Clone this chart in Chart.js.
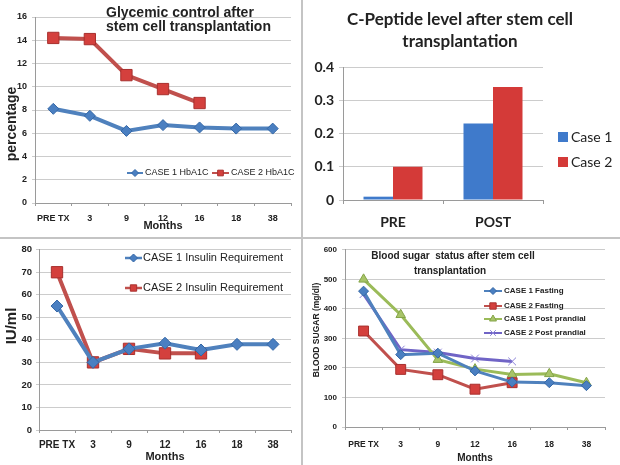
<!DOCTYPE html>
<html lang="en">
<head>
<meta charset="UTF-8" />
<title>Stem cell transplantation outcomes</title>
<script src="https://cdn.jsdelivr.net/npm/chart.js"></script>
<style>
  body { margin: 0; background: #fff; }
  #wrap { position: relative; width: 620px; height: 465px; overflow: hidden; background: #fff; }
  .panel { position: absolute; }
  .vline { position: absolute; left: 301px; top: 0; width: 2px; height: 465px; background: #c4c4c4; }
  .hline { position: absolute; left: 0; top: 237px; width: 620px; height: 2px; background: #c4c4c4; }
</style>
</head>
<body>
<div id="wrap">
  <canvas id="hba1c" class="panel" width="300" height="234" style="left:0;top:0"></canvas>
  <canvas id="peptide" class="panel" width="318" height="236" style="left:303px;top:0"></canvas>
  <canvas id="insulin" class="panel" width="300" height="225" style="left:0;top:240px"></canvas>
  <canvas id="sugar" class="panel" width="318" height="225" style="left:303px;top:240px"></canvas>
  <div class="vline"></div>
  <div class="hline"></div>
</div>
<script>
  const months = ['PRE TX', '3', '9', '12', '16', '18', '38'];

  const hba1cCase1 = [8.1, 7.5, 6.2, 6.7, 6.5, 6.4, 6.4];
  const hba1cCase2 = [14.2, 14.1, 11.0, 9.8, 8.6, null, null];

  const peptideGroups = ['PRE', 'POST'];
  const peptideCase1 = [0.01, 0.23];
  const peptideCase2 = [0.10, 0.34];

  const insulinCase1 = [55, 30, 36, 38.5, 35.5, 38, 38];
  const insulinCase2 = [70, 30, 36, 34, 34, null, null];

  const fastingCase1 = [460, 245, 250, 190, 152, 150, 140];
  const fastingCase2 = [325, 195, 177, 128, 150, null, null];
  const ppCase1 = [500, 380, 228, 196, 178, 180, 150];
  const ppCase2 = [450, 262, 252, 232, 222, null, null];

  const SANS = '"Liberation Sans", Arial, sans-serif';
  const LATO = 'Lato, "Liberation Sans", sans-serif';
  const BLUE = '#4f81bd', RED = '#c0504d', GREEN = '#9bbb59', PURPLE = '#7064c6';
  const GRID = '#cccccc', AXIS = '#9a9a9a', INK = '#222';

  // draws titles, rotated axis titles and legends at fixed spots
  function overlay(cfg) {
    return {
      id: 'overlay',
      afterDraw(chart) {
        const ctx = chart.ctx;
        (cfg.texts || []).forEach(t => {
          ctx.save();
          ctx.font = t.font;
          ctx.fillStyle = INK;
          ctx.textAlign = t.align || 'left';
          ctx.textBaseline = 'middle';
          ctx.translate(t.x, t.y);
          if (t.rotate) ctx.rotate(t.rotate);
          ctx.fillText(t.text, 0, 0);
          ctx.restore();
        });
        (cfg.legend || []).forEach(it => {
          const ds = chart.data.datasets[it.dataset];
          ctx.save();
          if (it.box) {
            ctx.fillStyle = ds.backgroundColor;
            ctx.fillRect(it.x, it.y - it.box / 2, it.box, it.box);
          } else {
            ctx.strokeStyle = ds.borderColor;
            ctx.lineWidth = it.lineWidth;
            ctx.beginPath();
            ctx.moveTo(it.x, it.y);
            ctx.lineTo(it.x + it.len, it.y);
            ctx.stroke();
            ctx.fillStyle = ds.pointBackgroundColor;
            ctx.strokeStyle = ds.pointBorderColor;
            ctx.lineWidth = 1;
            Chart.helpers.drawPoint(ctx, { pointStyle: ds.pointStyle, radius: it.radius, rotation: 0, borderWidth: 1 }, it.x + it.len / 2, it.y);
          }
          ctx.font = it.font;
          ctx.fillStyle = INK;
          ctx.textAlign = 'left';
          ctx.textBaseline = 'middle';
          ctx.fillText(ds.label, it.textX, it.y);
          ctx.restore();
        });
      }
    };
  }

  function lineSet(label, data, color, style, radius, width, pointColor, pointBorder) {
    return {
      label, data,
      borderColor: color, borderWidth: width,
      pointStyle: style, pointRadius: radius,
      pointBackgroundColor: pointColor || color,
      pointBorderColor: pointBorder || color,
      pointBorderWidth: 1,
      tension: 0, spanGaps: false
    };
  }

  function xScale(height, tickFont, tickPad, titleFont, titlePad) {
    return {
      offset: true,
      afterFit: s => { s.height = height; },
      grid: { display: true, drawOnChartArea: false, offset: true, tickLength: 3, color: AXIS },
      border: { color: AXIS },
      ticks: { color: INK, font: tickFont, padding: tickPad, maxRotation: 0, minRotation: 0, autoSkip: false },
      title: titleFont ? { display: true, text: 'Months', color: INK, font: titleFont, padding: { top: 0, bottom: titlePad } } : { display: false }
    };
  }

  function yScale(width, max, step, tickFont, tickPad) {
    return {
      min: 0, max,
      afterFit: s => { s.width = width; },
      grid: { color: GRID, tickLength: 3 },
      border: { color: AXIS },
      ticks: { stepSize: step, color: INK, font: tickFont, padding: tickPad }
    };
  }

  Chart.defaults.animation = false;
  Chart.defaults.responsive = false;
  Chart.defaults.plugins.legend.display = false;
  Chart.defaults.plugins.tooltip.enabled = false;

  // Glycemic control
  new Chart(document.getElementById('hba1c'), {
    type: 'line',
    data: {
      labels: months,
      datasets: [
        lineSet('CASE 1 HbA1C', hba1cCase1, BLUE, 'rectRot', 5.5, 4, '#4a7fc1', '#3467a6'),
        lineSet('CASE 2 HbA1C', hba1cCase2, RED, 'rect', 8, 4, '#d4403d', '#a8302e')
      ]
    },
    options: {
      layout: { padding: { left: 0, top: 17, right: 5, bottom: 0 } },
      scales: {
        x: xScale(31, { family: SANS, size: 9, weight: 'bold' }, 7, { family: SANS, size: 11, weight: 'bold' }, 1),
        y: yScale(35, 16, 2, { family: SANS, size: 9, weight: 'bold' }, 5)
      }
    },
    plugins: [overlay({
      texts: [
        { text: 'Glycemic control after', x: 106, y: 13, font: `bold 14px ${SANS}` },
        { text: 'stem cell transplantation', x: 106, y: 27, font: `bold 14px ${SANS}` },
        { text: 'percentage', x: 12, y: 124, rotate: -Math.PI / 2, align: 'center', font: `bold 14px ${SANS}` }
      ],
      legend: [
        { dataset: 0, x: 127, y: 173, len: 16, lineWidth: 2, radius: 3.5, textX: 145, font: `9px ${SANS}` },
        { dataset: 1, x: 212, y: 173, len: 17, lineWidth: 2, radius: 4, textX: 231, font: `9px ${SANS}` }
      ]
    })]
  });

  // C-Peptide
  new Chart(document.getElementById('peptide'), {
    type: 'bar',
    data: {
      labels: peptideGroups,
      datasets: [
        { label: 'Case 1', data: peptideCase1, backgroundColor: '#3f7acb', borderColor: '#2f62a8', borderWidth: 0 },
        { label: 'Case 2', data: peptideCase2, backgroundColor: '#d43a38', borderColor: '#a52a28', borderWidth: 0 }
      ]
    },
    options: {
      datasets: { bar: { categoryPercentage: 0.59, barPercentage: 1 } },
      layout: { padding: { left: 0, top: 67, right: 78, bottom: 0 } },
      scales: {
        x: {
          afterFit: s => { s.height = 36; },
          grid: { display: true, drawOnChartArea: false, offset: true, tickLength: 4, color: AXIS },
          border: { color: AXIS },
          ticks: { color: INK, font: { family: LATO, size: 14, weight: 'bold' }, padding: 10, maxRotation: 0 }
        },
        y: {
          min: 0, max: 0.4,
          afterFit: s => { s.width = 40; },
          grid: { color: GRID, tickLength: 4 },
          border: { color: AXIS },
          ticks: { stepSize: 0.1, color: INK, font: { family: LATO, size: 14, weight: 'bold' }, padding: 5 }
        }
      }
    },
    plugins: [overlay({
      texts: [
        { text: 'C-Peptide level after stem cell', x: 157, y: 20, align: 'center', font: `bold 17px ${LATO}` },
        { text: 'transplantation', x: 157, y: 42, align: 'center', font: `bold 17px ${LATO}` }
      ],
      legend: [
        { dataset: 0, x: 255, y: 137, box: 10, textX: 268, font: `14px ${LATO}` },
        { dataset: 1, x: 255, y: 162, box: 10, textX: 268, font: `14px ${LATO}` }
      ]
    })]
  });

  // Insulin requirement
  new Chart(document.getElementById('insulin'), {
    type: 'line',
    data: {
      labels: months,
      datasets: [
        lineSet('CASE 1 Insulin Requirement', insulinCase1, BLUE, 'rectRot', 6, 4, '#4a7fc1', '#3467a6'),
        lineSet('CASE 2 Insulin Requirement', insulinCase2, RED, 'rect', 8, 4, '#d4403d', '#a8302e')
      ]
    },
    options: {
      layout: { padding: { left: 0, top: 6, right: 1, bottom: 0 } },
      scales: {
        x: xScale(35, { family: SANS, size: 10, weight: 'bold' }, 6, { family: SANS, size: 11, weight: 'bold' }, 1),
        y: yScale(39, 80, 10, { family: SANS, size: 9.5, weight: 'bold' }, 4)
      }
    },
    plugins: [overlay({
      texts: [
        { text: 'IU/ml', x: 12, y: 86, rotate: -Math.PI / 2, align: 'center', font: `bold 15px ${SANS}` }
      ],
      legend: [
        { dataset: 0, x: 125, y: 18, len: 17, lineWidth: 2.5, radius: 4, textX: 143, font: `11px ${SANS}` },
        { dataset: 1, x: 125, y: 48, len: 17, lineWidth: 2.5, radius: 4.5, textX: 143, font: `11px ${SANS}` }
      ]
    })]
  });

  // Blood sugar
  new Chart(document.getElementById('sugar'), {
    type: 'line',
    data: {
      labels: months,
      datasets: [
        lineSet('CASE 1 Fasting', fastingCase1, BLUE, 'rectRot', 5, 3, '#4a7fc1', '#3467a6'),
        lineSet('CASE 2 Fasting', fastingCase2, RED, 'rect', 7, 3, '#d4403d', '#a8302e'),
        lineSet('CASE 1 Post prandial', ppCase1, GREEN, 'triangle', 5.5, 3, '#a8c468', '#84a448'),
        lineSet('CASE 2 Post prandial', ppCase2, PURPLE, 'crossRot', 5.5, 3, '#8a80d8', '#8a80d8')
      ]
    },
    options: {
      layout: { padding: { left: 0, top: 8, right: 16, bottom: 0 } },
      scales: {
        x: xScale(38, { family: SANS, size: 8.5, weight: 'bold' }, 10, { family: SANS, size: 10, weight: 'bold' }, 1),
        y: yScale(42, 600, 100, { family: SANS, size: 8, weight: 'bold' }, 5)
      }
    },
    plugins: [overlay({
      texts: [
        { text: 'Blood sugar  status after stem cell', x: 150, y: 16, align: 'center', font: `bold 10px ${SANS}` },
        { text: 'transplantation', x: 147, y: 31, align: 'center', font: `bold 10px ${SANS}` },
        { text: 'BLOOD SUGAR (mg/dl)', x: 14, y: 90, rotate: -Math.PI / 2, align: 'center', font: `bold 8.5px ${SANS}` }
      ],
      legend: [
        { dataset: 0, x: 181, y: 51, len: 18, lineWidth: 2, radius: 3.5, textX: 201, font: `bold 8px ${SANS}` },
        { dataset: 1, x: 181, y: 66, len: 18, lineWidth: 2, radius: 4.5, textX: 201, font: `bold 8px ${SANS}` },
        { dataset: 2, x: 181, y: 79, len: 18, lineWidth: 2, radius: 4, textX: 201, font: `bold 8px ${SANS}` },
        { dataset: 3, x: 181, y: 93, len: 18, lineWidth: 2, radius: 4, textX: 201, font: `bold 8px ${SANS}` }
      ]
    })]
  });
</script>
</body>
</html>
